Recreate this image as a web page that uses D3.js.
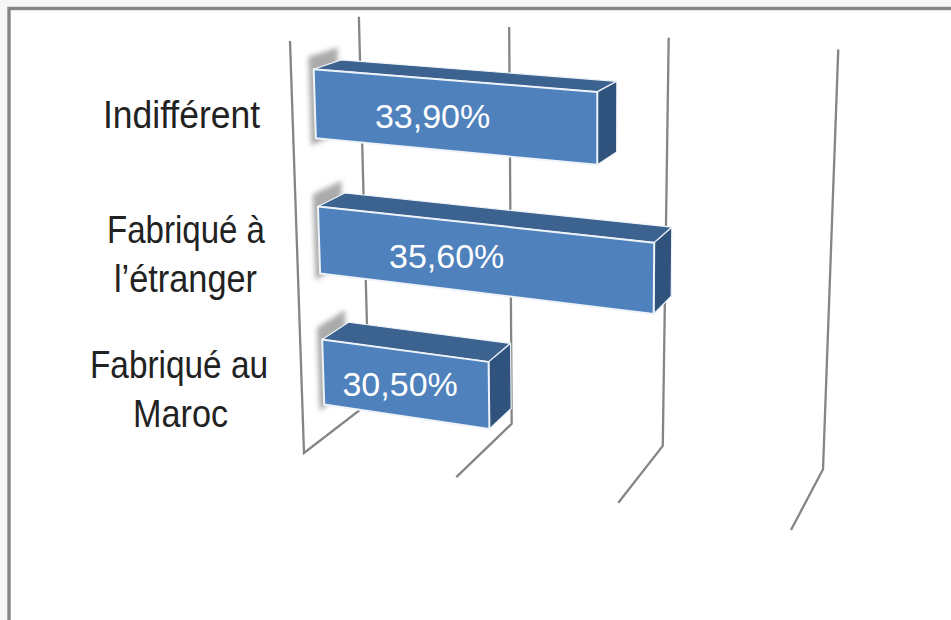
<!DOCTYPE html>
<html lang="fr">
<head>
<meta charset="utf-8">
<script src="https://cdn.jsdelivr.net/npm/d3@7"></script>
<style>
  html, body { margin: 0; padding: 0; background: #fff; }
  svg { display: block; }
  .cat { font-family: "Liberation Sans", sans-serif; font-size: 39px; fill: #222; text-anchor: middle; }
  .val { font-family: "Liberation Sans", sans-serif; font-size: 34px; fill: #fff; text-anchor: middle; }
</style>
</head>
<body>
<script>
// Survey shares, listed from the bottom bar to the top bar.
const categories = ["Fabriqué au Maroc", "Fabriqué à l’étranger", "Indifférent"];
const shares = [30.5, 35.6, 33.9];
const categoryLines = [["Fabriqué au", "Maroc"], ["Fabriqué à", "l’étranger"], ["Indifférent"]];
const valueTicks = [25, 30, 35, 40];

const width = 951, height = 620;

// Perspective box: screen corners of the plot cube and the homogeneous weight of each axis.
const origin = [304, 453], uEnd = [791, 530], vEnd = [290, 41], wEnd = [369, 403];
const uWeight = 0.91, vWeight = 0.954, wWeight = 1.079;

function project(u, v, w) {
  const d = 1 + (uWeight - 1) * u + (vWeight - 1) * v + (wWeight - 1) * w;
  return [0, 1].map(i =>
    (origin[i]
      + (uWeight * uEnd[i] - origin[i]) * u
      + (vWeight * vEnd[i] - origin[i]) * v
      + (wWeight * wEnd[i] - origin[i]) * w) / d);
}

const uScale = d3.scaleLinear().domain([25, 40]).range([0, 1]);
const vScale = d3.scaleBand().domain(categories).range([0, 1]).paddingInner(0.5).paddingOuter(0.25);
const wNear = 0.31, wFar = 0.71, backWallTop = 1.009;

const svg = d3.select("body").append("svg").attr("width", width).attr("height", height);
const defs = svg.append("defs");
defs.append("filter").attr("id", "soft").attr("x", "-50%").attr("y", "-50%").attr("width", "200%").attr("height", "200%")
  .append("feGaussianBlur").attr("stdDeviation", 2.4);

// Slide frame
svg.append("rect").attr("width", width).attr("height", height).attr("fill", "#f6f6f6");
svg.append("rect").attr("x", 9).attr("y", 8.5).attr("width", width).attr("height", height)
  .attr("fill", "#fff").attr("stroke", "#858585").attr("stroke-width", 3.4);

const line = d3.line();

// Gridlines run down the back wall and forward across the floor; the first also climbs the side wall.
const grid = svg.append("g").attr("fill", "none").attr("stroke", "#858585").attr("stroke-width", 2.3);
valueTicks.forEach((t, i) => {
  const u = uScale(t);
  // The back wall fans outward a little more toward the high end of the scale.
  const top = project(u, backWallTop, 1);
  top[0] += 4 * u;
  const pts = [top, project(u, 0, 1), project(u, 0, 0)];
  if (i === 0) pts.push(project(u, 1, 0));
  grid.append("path").attr("d", line(pts));
});

// Bars: soft shadow on the side wall, then the three visible faces
const bars = svg.append("g");
categories.forEach((c, i) => {
  const v0 = vScale(c), v1 = v0 + vScale.bandwidth();
  const u = uScale(shares[i]);
  const g = bars.append("g");
  const face = (pts, fill, sw) => g.append("path")
    .attr("d", line(pts.map(p => project(...p))) + "Z")
    .attr("fill", fill).attr("stroke", "#eef3f9").attr("stroke-width", sw).attr("stroke-linejoin", "round");

  g.append("path")
    .attr("d", line([[-0.011, v1 + 0.028, wNear], [-0.011, v1 + 0.028, wFar + 0.025], [-0.011, v0 - 0.018, wFar], [-0.011, v0 - 0.018, wNear]]
      .map(p => project(...p))) + "Z")
    .attr("fill", "#ababab").attr("filter", "url(#soft)");

  face([[0, v1, wNear], [u, v1, wNear], [u, v1, wFar], [0, v1, wFar]], "#3c6290", 1.2);
  face([[u, v1, wNear], [u, v1, wFar], [u, v0, wFar], [u, v0, wNear]], "#30537d", 1.2);
  face([[0, v0, wNear], [u, v0, wNear], [u, v1, wNear], [0, v1, wNear]], "#4f81bd", 2);
});

// Value labels sit left of each bar's centre, as the chart placed them.
const comma = d3.formatLocale({ decimal: ",", thousands: " ", grouping: [3], currency: ["", "€"] }).format(".2f");
const valueLabelAlong = [0.464, 0.381, 0.417];
const valueLabels = svg.append("g");
categories.forEach((c, i) => {
  const vMid = vScale(c) + vScale.bandwidth() / 2;
  const a = project(0, vMid, wNear), b = project(uScale(shares[i]), vMid, wNear);
  const f = valueLabelAlong[i];
  valueLabels.append("text").attr("class", "val")
    .attr("x", a[0] + f * (b[0] - a[0]))
    .attr("y", a[1] + f * (b[1] - a[1]) + 13.5)
    .text(comma(shares[i]) + "%");
});

// Category labels are centred on the front edge of the side wall at each band's height,
// condensed to the narrow setting of the chart's axis type.
const labelCentreX = [[179, 180.5], [186, 185.5], [181.5]];
const labelWidths = [[178, 95], [158, 143], [157]];
const lineGap = 49;
const catLabels = svg.append("g");
categories.forEach((c, i) => {
  const mid = project(0, vScale(c) + vScale.bandwidth() / 2, 0)[1];
  const lines = categoryLines[i];
  lines.forEach((txt, j) => {
    catLabels.append("text").attr("class", "cat").attr("x", labelCentreX[i][j])
      .attr("y", mid + 15.5 + (j - (lines.length - 1) / 2) * lineGap)
      .attr("textLength", labelWidths[i][j]).attr("lengthAdjust", "spacingAndGlyphs")
      .text(txt);
  });
});
</script>
</body>
</html>
